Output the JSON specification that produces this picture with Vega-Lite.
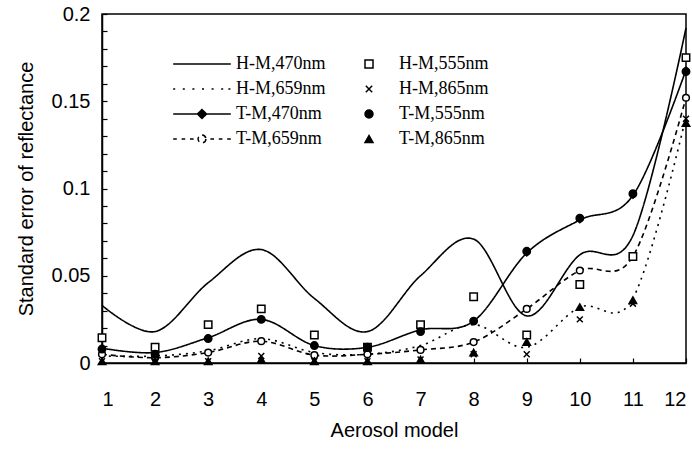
{
  "$schema": "https://vega.github.io/schema/vega-lite/v6.json",
  "width": 584,
  "height": 349,
  "autosize": {"type": "none"},
  "padding": {"left": 102, "top": 14, "right": 6, "bottom": 88},
  "background": "white",
  "config": {
    "view": {"stroke": "black", "strokeWidth": 1.5},
    "font": "Liberation Sans",
    "axis": {"labelColor": "black", "titleColor": "black", "domainColor": "black", "tickColor": "black", "domainWidth": 1.5, "tickWidth": 1.2, "grid": false, "titleFontWeight": "normal", "labelFont": "Liberation Sans", "titleFont": "Liberation Sans", "labelFontSize": 20, "titleFontSize": 20}
  },
  "data": {"values": [
    {"model":1,"series":"H-M,470nm","value":0.033},{"model":2,"series":"H-M,470nm","value":0.018},{"model":3,"series":"H-M,470nm","value":0.046},{"model":4,"series":"H-M,470nm","value":0.065},{"model":5,"series":"H-M,470nm","value":0.037},{"model":6,"series":"H-M,470nm","value":0.018},{"model":7,"series":"H-M,470nm","value":0.050},{"model":8,"series":"H-M,470nm","value":0.071},{"model":9,"series":"H-M,470nm","value":0.027},{"model":10,"series":"H-M,470nm","value":0.062},{"model":11,"series":"H-M,470nm","value":0.073},{"model":12,"series":"H-M,470nm","value":0.192},
    {"model":1,"series":"H-M,555nm","value":0.0145},{"model":2,"series":"H-M,555nm","value":0.009},{"model":3,"series":"H-M,555nm","value":0.022},{"model":4,"series":"H-M,555nm","value":0.031},{"model":5,"series":"H-M,555nm","value":0.016},{"model":6,"series":"H-M,555nm","value":0.009},{"model":7,"series":"H-M,555nm","value":0.022},{"model":8,"series":"H-M,555nm","value":0.038},{"model":9,"series":"H-M,555nm","value":0.016},{"model":10,"series":"H-M,555nm","value":0.045},{"model":11,"series":"H-M,555nm","value":0.061},{"model":12,"series":"H-M,555nm","value":0.175},
    {"model":1,"series":"H-M,659nm","value":0.004},{"model":2,"series":"H-M,659nm","value":0.004},{"model":3,"series":"H-M,659nm","value":0.007},{"model":4,"series":"H-M,659nm","value":0.014},{"model":5,"series":"H-M,659nm","value":0.006},{"model":6,"series":"H-M,659nm","value":0.005},{"model":7,"series":"H-M,659nm","value":0.010},{"model":8,"series":"H-M,659nm","value":0.022},{"model":9,"series":"H-M,659nm","value":0.009},{"model":10,"series":"H-M,659nm","value":0.032},{"model":11,"series":"H-M,659nm","value":0.037},{"model":12,"series":"H-M,659nm","value":0.141},
    {"model":1,"series":"H-M,865nm","value":0.001},{"model":2,"series":"H-M,865nm","value":0.001},{"model":3,"series":"H-M,865nm","value":0.001},{"model":4,"series":"H-M,865nm","value":0.004},{"model":5,"series":"H-M,865nm","value":0.001},{"model":6,"series":"H-M,865nm","value":0.001},{"model":7,"series":"H-M,865nm","value":0.002},{"model":8,"series":"H-M,865nm","value":0.005},{"model":9,"series":"H-M,865nm","value":0.005},{"model":10,"series":"H-M,865nm","value":0.025},{"model":11,"series":"H-M,865nm","value":0.034},{"model":12,"series":"H-M,865nm","value":0.140},
    {"model":1,"series":"T-M,470nm","value":0.0085},{"model":2,"series":"T-M,470nm","value":0.006},{"model":3,"series":"T-M,470nm","value":0.0145},{"model":4,"series":"T-M,470nm","value":0.025},{"model":5,"series":"T-M,470nm","value":0.010},{"model":6,"series":"T-M,470nm","value":0.009},{"model":7,"series":"T-M,470nm","value":0.019},{"model":8,"series":"T-M,470nm","value":0.024},{"model":9,"series":"T-M,470nm","value":0.063},{"model":10,"series":"T-M,470nm","value":0.082},{"model":11,"series":"T-M,470nm","value":0.096},{"model":12,"series":"T-M,470nm","value":0.168},
    {"model":1,"series":"T-M,555nm","value":0.008},{"model":2,"series":"T-M,555nm","value":0.005},{"model":3,"series":"T-M,555nm","value":0.014},{"model":4,"series":"T-M,555nm","value":0.025},{"model":5,"series":"T-M,555nm","value":0.010},{"model":6,"series":"T-M,555nm","value":0.009},{"model":7,"series":"T-M,555nm","value":0.018},{"model":8,"series":"T-M,555nm","value":0.024},{"model":9,"series":"T-M,555nm","value":0.064},{"model":10,"series":"T-M,555nm","value":0.083},{"model":11,"series":"T-M,555nm","value":0.097},{"model":12,"series":"T-M,555nm","value":0.167},
    {"model":1,"series":"T-M,659nm","value":0.005},{"model":2,"series":"T-M,659nm","value":0.003},{"model":3,"series":"T-M,659nm","value":0.006},{"model":4,"series":"T-M,659nm","value":0.0125},{"model":5,"series":"T-M,659nm","value":0.0045},{"model":6,"series":"T-M,659nm","value":0.005},{"model":7,"series":"T-M,659nm","value":0.0075},{"model":8,"series":"T-M,659nm","value":0.012},{"model":9,"series":"T-M,659nm","value":0.031},{"model":10,"series":"T-M,659nm","value":0.053},{"model":11,"series":"T-M,659nm","value":0.061},{"model":12,"series":"T-M,659nm","value":0.152},
    {"model":1,"series":"T-M,865nm","value":0.001},{"model":2,"series":"T-M,865nm","value":0.001},{"model":3,"series":"T-M,865nm","value":0.001},{"model":4,"series":"T-M,865nm","value":0.002},{"model":5,"series":"T-M,865nm","value":0.001},{"model":6,"series":"T-M,865nm","value":0.001},{"model":7,"series":"T-M,865nm","value":0.002},{"model":8,"series":"T-M,865nm","value":0.006},{"model":9,"series":"T-M,865nm","value":0.012},{"model":10,"series":"T-M,865nm","value":0.032},{"model":11,"series":"T-M,865nm","value":0.036},{"model":12,"series":"T-M,865nm","value":0.1375}
  ]},
  "encoding": {
    "x": {"field": "model", "type": "quantitative", "scale": {"domain": [1, 12], "nice": false, "zero": false},
      "axis": {"title": "Aerosol model", "values": [1,2,3,4,5,6,7,8,9,10,11,12], "format": "d", "tickSize": -5, "labelPadding": 31, "titlePadding": 11}},
    "y": {"field": "value", "type": "quantitative", "scale": {"domain": [0, 0.2], "nice": false},
      "axis": {"title": "Standard error of reflectance", "values": [0,0.01,0.02,0.03,0.04,0.05,0.06,0.07,0.08,0.09,0.1,0.11,0.12,0.13,0.14,0.15,0.16,0.17,0.18,0.19,0.2], "format": "~g", "labelExpr": "round(datum.value*100) % 5 == 0 ? datum.label : ''", "tickSize": -5, "labelPadding": 17, "titlePadding": 15}}
  },
  "layer": [
    {
      "transform": [{"filter": {"field": "series", "oneOf": ["H-M,470nm", "H-M,659nm", "T-M,470nm", "T-M,659nm"]}}],
      "mark": {"type": "line", "interpolate": "cardinal", "color": "black", "strokeWidth": 1.6, "clip": false},
      "encoding": {
        "strokeDash": {"field": "series", "type": "nominal",
          "scale": {"domain": ["H-M,470nm", "H-M,659nm", "T-M,470nm", "T-M,659nm"], "range": [[1,0],[2,5],[1,0],[5,4]]},
          "legend": {"orient": "none", "legendX": 91, "legendY": 41, "title": null, "padding": 0, "symbolSize": 144, "symbolOffset": 0,
            "symbolStrokeColor": "black", "symbolStrokeWidth": 1.5, "labelFont": "Liberation Serif", "labelFontSize": 18, "labelColor": "black", "labelOffset": 25, "rowPadding": 7,
            "encode": {"symbols": {"update": {
              "shape": {"signal": "datum.value === 'H-M,659nm' ? 'M-4.8,0H-4.4M-3.2,0H-2.8M-1.6,0H-1.2M0,0H0.4M1.6,0H2M3.2,0H3.6M4.4,0H4.8' : datum.value === 'T-M,470nm' ? 'M-4.8,0H4.8M0,-0.75L0.75,0L0,0.75L-0.75,0Z' : datum.value === 'T-M,659nm' ? 'M-4.8,0H-4.2M-3.4,0H-2.8M-2,0H-1.4M1.4,0H2M2.8,0H3.4M4.2,0H4.8M0.65,0A0.65,0.65 0 1 1 -0.65,0A0.65,0.65 0 1 1 0.65,0Z' : 'M-4.8,0H4.8'"},
              "strokeDash": {"value": []},
              "fill": {"signal": "datum.value === 'T-M,659nm' ? 'white' : 'black'"},
              "stroke": {"value": "black"},
              "strokeWidth": {"value": 1.5}
            }}}
          }}
      }
    },
    {
      "transform": [{"filter": {"field": "series", "equal": "T-M,470nm"}}],
      "mark": {"type": "point", "shape": "diamond", "filled": true, "color": "black", "opacity": 1, "size": 60, "clip": false}
    },
    {
      "transform": [{"filter": {"field": "series", "equal": "T-M,659nm"}}],
      "mark": {"type": "point", "shape": "circle", "filled": true, "fill": "white", "stroke": "black", "strokeWidth": 1.5, "opacity": 1, "size": 45, "clip": false}
    },
    {
      "transform": [{"filter": {"field": "series", "oneOf": ["H-M,555nm", "H-M,865nm", "T-M,555nm", "T-M,865nm"]}}],
      "mark": {"type": "point", "filled": false, "strokeWidth": 1.5, "opacity": 1, "size": 55, "clip": false},
      "encoding": {
        "shape": {"field": "series", "type": "nominal",
          "scale": {"domain": ["H-M,555nm", "H-M,865nm", "T-M,555nm", "T-M,865nm"], "range": ["square", "M-0.8,-0.8L0.8,0.8M-0.8,0.8L0.8,-0.8", "circle", "triangle-up"]},
          "legend": {"orient": "none", "legendX": 258, "legendY": 41, "title": null, "padding": 0, "symbolSize": 64, "symbolOffset": 0,
            "symbolStrokeWidth": 1.5, "symbolOpacity": 1, "labelFont": "Liberation Serif", "labelFontSize": 18, "labelColor": "black", "labelOffset": 21, "rowPadding": 7}},
        "fill": {"field": "series", "type": "nominal",
          "scale": {"domain": ["H-M,555nm", "H-M,865nm", "T-M,555nm", "T-M,865nm"], "range": ["white", "black", "black", "black"]},
          "legend": {"orient": "none", "legendX": 258, "legendY": 41, "title": null, "padding": 0, "symbolSize": 64, "symbolOffset": 0,
            "symbolStrokeWidth": 1.5, "symbolOpacity": 1, "labelFont": "Liberation Serif", "labelFontSize": 18, "labelColor": "black", "labelOffset": 21, "rowPadding": 7}},
        "stroke": {"field": "series", "type": "nominal",
          "scale": {"domain": ["H-M,555nm", "H-M,865nm", "T-M,555nm", "T-M,865nm"], "range": ["black", "black", "black", "black"]},
          "legend": {"orient": "none", "legendX": 258, "legendY": 41, "title": null, "padding": 0, "symbolSize": 64, "symbolOffset": 0,
            "symbolStrokeWidth": 1.5, "symbolOpacity": 1, "labelFont": "Liberation Serif", "labelFontSize": 18, "labelColor": "black", "labelOffset": 21, "rowPadding": 7}}
      }
    }
  ]
}
